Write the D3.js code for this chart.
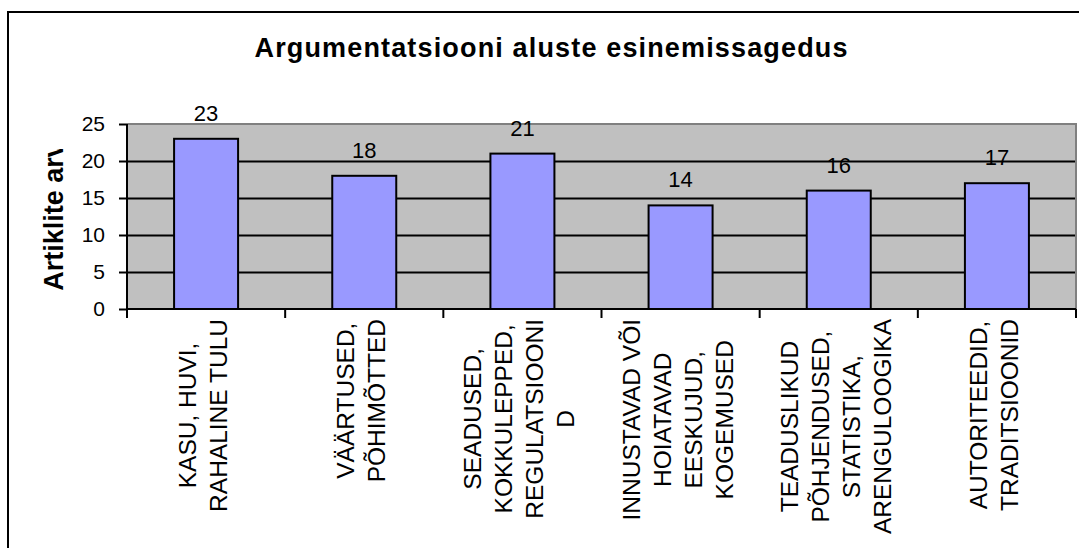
<!DOCTYPE html>
<html>
<head>
<meta charset="utf-8">
<script src="https://cdn.jsdelivr.net/npm/d3@7"></script>
<style>
  body { margin: 0; background: #fff; }
  svg { display: block; font-family: Arial, "Liberation Sans", sans-serif; }
</style>
</head>
<body>
<div id="chart"></div>
<script>
// data
const categories = [
  ["KASU, HUVI,", "RAHALINE TULU"],
  ["VÄÄRTUSED,", "PÕHIMÕTTED"],
  ["SEADUSED,", "KOKKULEPPED,", "REGULATSIOONI", "D"],
  ["INNUSTAVAD VÕI", "HOIATAVAD", "EESKUJUD,", "KOGEMUSED"],
  ["TEADUSLIKUD", "PÕHJENDUSED,", "STATISTIKA,", "ARENGULOOGIKA"],
  ["AUTORITEEDID,", "TRADITSIOONID"]
];
const values = [23, 18, 21, 14, 16, 17];
const yTicks = [0, 5, 10, 15, 20, 25];
const title = "Argumentatsiooni aluste esinemissagedus";
const yTitle = "Artiklite arv";

const width = 1079, height = 548;
const plot = { left: 127, right: 1076, top: 124, bottom: 309 };

const svg = d3.select("#chart").append("svg")
  .attr("width", width)
  .attr("height", height);

svg.append("rect").attr("width", width).attr("height", height).attr("fill", "#fff");

// chart area border (runs off the picture on the right and bottom)
svg.append("rect")
  .attr("x", 8).attr("y", 12)
  .attr("width", 1100).attr("height", 600)
  .attr("fill", "none")
  .attr("stroke", "#000")
  .attr("stroke-width", 2);

const keys = categories.map((c, i) => i);
const x = d3.scaleBand().domain(keys).range([plot.left, plot.right]).padding(0);
const y = d3.scaleLinear().domain([0, 25]).range([plot.bottom, plot.top]);
const barW = 64;

// plot background
svg.append("rect")
  .attr("x", plot.left).attr("y", plot.top)
  .attr("width", plot.right - plot.left).attr("height", plot.bottom - plot.top)
  .attr("fill", "#c0c0c0");

// grid lines
svg.append("g")
  .attr("transform", `translate(${plot.left},0)`)
  .call(d3.axisLeft(y).tickValues(yTicks.filter(t => t > 0 && t < 25)).tickSize(-(plot.right - plot.left)).tickFormat(""))
  .call(g => g.select(".domain").remove())
  .call(g => g.selectAll("line").attr("stroke", "#000").attr("stroke-width", 2));

// gray top/right border of plot
svg.append("path")
  .attr("d", `M${plot.left},${plot.top}H${plot.right}V${plot.bottom}`)
  .attr("fill", "none")
  .attr("stroke", "#808080")
  .attr("stroke-width", 2);

// bars
svg.append("g")
  .selectAll("rect")
  .data(values)
  .join("rect")
  .attr("x", (d, i) => x(i) + x.bandwidth() / 2 - barW / 2)
  .attr("y", d => y(d))
  .attr("width", barW)
  .attr("height", d => y(0) - y(d))
  .attr("fill", "#9999ff")
  .attr("stroke", "#000")
  .attr("stroke-width", 2);

// value labels
svg.append("g")
  .selectAll("text")
  .data(values)
  .join("text")
  .attr("x", (d, i) => x(i) + x.bandwidth() / 2)
  .attr("y", d => y(d) - 18)
  .attr("text-anchor", "middle")
  .attr("font-size", 22)
  .attr("fill", "#000")
  .text(d => d);

// y axis
svg.append("g")
  .attr("transform", `translate(${plot.left},0)`)
  .call(d3.axisLeft(y).tickValues(yTicks).tickSize(8).tickPadding(14))
  .call(g => g.select(".domain").remove())
  .call(g => g.selectAll("line").attr("stroke", "#000").attr("stroke-width", 2))
  .call(g => g.selectAll("text").attr("font-size", 21).attr("fill", "#000").attr("font-family", null));

svg.append("line")
  .attr("x1", plot.left).attr("x2", plot.left)
  .attr("y1", plot.top).attr("y2", plot.bottom + 9)
  .attr("stroke", "#000").attr("stroke-width", 2);

// x axis
const xTickPos = keys.map(i => x(i)).concat([plot.right]);
svg.append("line")
  .attr("x1", plot.left).attr("x2", plot.right)
  .attr("y1", plot.bottom).attr("y2", plot.bottom)
  .attr("stroke", "#000").attr("stroke-width", 2);
svg.append("g")
  .selectAll("line")
  .data(xTickPos)
  .join("line")
  .attr("x1", d => d).attr("x2", d => d)
  .attr("y1", plot.bottom).attr("y2", plot.bottom + 9)
  .attr("stroke", "#000").attr("stroke-width", 2);

// category labels, rotated, lines centred on each other
const lineGap = 31;
const catG = svg.append("g").attr("font-size", 24.5).attr("fill", "#000");
categories.forEach((lines, i) => {
  const cx = x(i) + x.bandwidth() / 2 - 3;
  const g = catG.append("g");
  const texts = g.selectAll("text")
    .data(lines)
    .join("text")
    .attr("text-anchor", "middle")
    .attr("dominant-baseline", "central")
    .text(d => d);
  const maxLen = d3.max(texts.nodes(), n => n.getComputedTextLength());
  const cy = plot.bottom + 10 + maxLen / 2;
  texts.attr("transform", (d, j) => {
    const lx = cx + (j - (lines.length - 1) / 2) * lineGap;
    return `translate(${lx},${cy}) rotate(-90)`;
  });
});

// title
svg.append("text")
  .attr("x", 551)
  .attr("y", 57)
  .attr("text-anchor", "middle")
  .attr("font-size", 27)
  .attr("font-weight", "bold")
  .attr("textLength", 593)
  .attr("lengthAdjust", "spacing")
  .text(title);

// y axis title, clipped like in the original
svg.append("clipPath").attr("id", "yclip")
  .append("rect").attr("x", 0).attr("y", 149).attr("width", 120).attr("height", 300);
svg.append("g")
  .attr("clip-path", "url(#yclip)")
  .append("text")
  .attr("transform", `translate(63,${(plot.top + plot.bottom) / 2}) rotate(-90)`)
  .attr("text-anchor", "middle")
  .attr("font-size", 27)
  .attr("font-weight", "bold")
  .text(yTitle);
</script>
</body>
</html>
